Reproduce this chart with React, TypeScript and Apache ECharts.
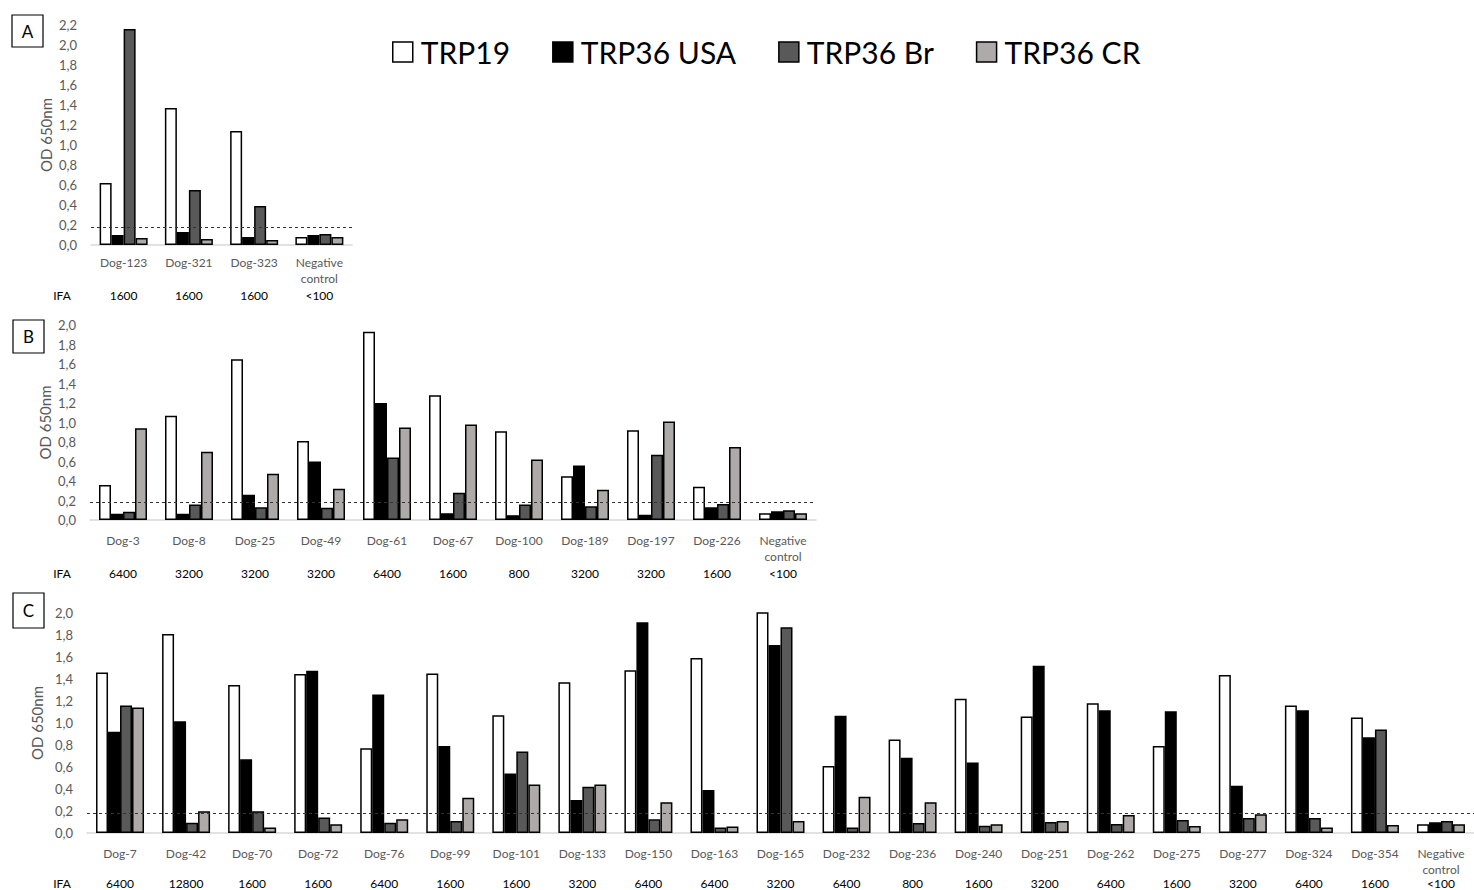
import React, { useEffect, useRef } from "react";
import * as echarts from "echarts";

const seriesNames = ["TRP19", "TRP36 USA", "TRP36 Br", "TRP36 CR"];
const seriesColors = ["#ffffff", "#000000", "#595959", "#aeaaaa"];
const cutoff = 0.18;

// Panel A
const catsA = ["Dog-123", "Dog-321", "Dog-323", "Negative\ncontrol"];
const ifaA = ["1600", "1600", "1600", "<100"];
const aTRP19 = [0.62, 1.37, 1.14, 0.08];
const aUSA = [0.1, 0.13, 0.08, 0.1];
const aBr = [2.16, 0.55, 0.39, 0.11];
const aCR = [0.07, 0.06, 0.05, 0.08];

// Panel B
const catsB = ["Dog-3", "Dog-8", "Dog-25", "Dog-49", "Dog-61", "Dog-67", "Dog-100", "Dog-189", "Dog-197", "Dog-226", "Negative\ncontrol"];
const ifaB = ["6400", "3200", "3200", "3200", "6400", "1600", "800", "3200", "3200", "1600", "<100"];
const bTRP19 = [0.36, 1.07, 1.65, 0.81, 1.93, 1.28, 0.91, 0.45, 0.92, 0.34, 0.07];
const bUSA = [0.065, 0.065, 0.26, 0.6, 1.2, 0.07, 0.05, 0.56, 0.055, 0.13, 0.09];
const bBr = [0.085, 0.16, 0.13, 0.125, 0.64, 0.28, 0.16, 0.14, 0.67, 0.165, 0.1];
const bCR = [0.94, 0.7, 0.475, 0.32, 0.95, 0.98, 0.62, 0.31, 1.01, 0.75, 0.07];

// Panel C
const catsC = ["Dog-7", "Dog-42", "Dog-70", "Dog-72", "Dog-76", "Dog-99", "Dog-101", "Dog-133", "Dog-150", "Dog-163", "Dog-165", "Dog-232", "Dog-236", "Dog-240", "Dog-251", "Dog-262", "Dog-275", "Dog-277", "Dog-324", "Dog-354", "Negative\ncontrol"];
const ifaC = ["6400", "12800", "1600", "1600", "6400", "1600", "1600", "3200", "6400", "6400", "3200", "6400", "800", "1600", "3200", "6400", "1600", "3200", "6400", "1600", "<100"];
const cTRP19 = [1.46, 1.81, 1.345, 1.445, 0.77, 1.45, 1.07, 1.37, 1.48, 1.59, 2.3, 0.61, 0.85, 1.22, 1.06, 1.18, 0.79, 1.436, 1.16, 1.05, 0.08];
const cUSA = [0.92, 1.015, 0.67, 1.475, 1.26, 0.79, 0.54, 0.3, 1.915, 0.39, 1.71, 1.067, 0.685, 0.64, 1.52, 1.115, 1.106, 0.43, 1.115, 0.87, 0.097];
const cBr = [1.16, 0.094, 0.197, 0.14, 0.094, 0.11, 0.74, 0.42, 0.124, 0.05, 1.87, 0.05, 0.09, 0.067, 0.1, 0.082, 0.118, 0.136, 0.136, 0.94, 0.11];
const cCR = [1.14, 0.197, 0.05, 0.08, 0.124, 0.32, 0.44, 0.44, 0.28, 0.06, 0.11, 0.33, 0.28, 0.08, 0.11, 0.164, 0.064, 0.17, 0.05, 0.073, 0.08];

const panels = [
  { letter: "A", cats: catsA, ifa: ifaA, values: [aTRP19, aUSA, aBr, aCR], max: 2.2,
    grid: { left: 91, top: 25, width: 261, height: 220 }, box: { x: 12, y: 15, w: 31, h: 32 }, labelMargin: 9, ifaMargin: 44 },
  { letter: "B", cats: catsB, ifa: ifaB, values: [bTRP19, bUSA, bBr, bCR], max: 2.0,
    grid: { left: 90, top: 325, width: 726, height: 195 }, box: { x: 13, y: 320, w: 31, h: 33 }, labelMargin: 12, ifaMargin: 47 },
  { letter: "C", cats: catsC, ifa: ifaC, values: [cTRP19, cUSA, cBr, cCR], max: 2.0,
    grid: { left: 87, top: 613, width: 1390, height: 220 }, box: { x: 13, y: 593, w: 31, h: 35 }, labelMargin: 12, ifaMargin: 44 },
];

const FONT = "Lato";

export default function App() {
  const ref = useRef<HTMLDivElement>(null);
  useEffect(() => {
    if (!ref.current) return;
    const chart = echarts.init(ref.current, undefined, { renderer: "svg" });
    const grids: any[] = [];
    const xAxes: any[] = [];
    const yAxes: any[] = [];
    const series: any[] = [];
    const graphics: any[] = [];
    panels.forEach((p, pi) => {
      grids.push({ ...p.grid, containLabel: false });
      xAxes.push({
        type: "category", gridIndex: pi, data: p.cats,
        axisLine: { lineStyle: { color: "#d9d9d9", width: 1.5 } },
        axisTick: { show: false },
        axisLabel: { color: "#595959", fontSize: 12, margin: p.labelMargin, lineHeight: 16, interval: 0, fontFamily: FONT },
      });
      xAxes.push({
        type: "category", gridIndex: pi, data: p.ifa, position: "bottom",
        axisLine: { show: false }, axisTick: { show: false },
        axisLabel: { color: "#000", fontSize: 12, margin: p.ifaMargin, interval: 0, fontFamily: FONT },
      });
      yAxes.push({
        type: "value", gridIndex: pi, min: 0, max: p.max, interval: 0.2,
        axisLine: { show: false }, axisTick: { show: false }, splitLine: { show: false },
        axisLabel: { color: "#595959", fontSize: 13, margin: 14, fontFamily: FONT,
          formatter: (v: number) => v.toFixed(1).replace(".", ",") },
        name: "OD 650nm", nameLocation: "middle", nameGap: 38,
        nameTextStyle: { color: "#595959", fontSize: 15, fontFamily: FONT },
      });
      p.values.forEach((vals, si) => {
        const s: any = {
          type: "bar", name: seriesNames[si], data: vals,
          xAxisIndex: pi * 2, yAxisIndex: pi,
          barWidth: 12, barGap: "0%",
          itemStyle: { color: seriesColors[si], borderColor: "#000", borderWidth: 1.5 },
          clip: true,
        };
        if (si === 0) {
          s.markLine = {
            silent: true, symbol: "none", label: { show: false },
            lineStyle: { color: "#333", width: 1, type: [3, 3] },
            data: [{ yAxis: cutoff }],
          };
        }
        series.push(s);
      });
      graphics.push({
        type: "rect", shape: { x: p.box.x, y: p.box.y, width: p.box.w, height: p.box.h },
        style: { fill: "#fff", stroke: "#000", lineWidth: 1.2 },
      });
      graphics.push({
        type: "text", x: p.box.x + p.box.w / 2, y: p.box.y + p.box.h / 2,
        style: { text: p.letter, fontSize: 17, fontFamily: FONT, fill: "#000", align: "center", verticalAlign: "middle" },
      });
    });
    const ifaY = [295, 573, 883];
    ifaY.forEach((y) => {
      graphics.push({
        type: "text", x: 62, y,
        style: { text: "IFA", fontSize: 12, fontFamily: FONT, fill: "#000", align: "center", verticalAlign: "middle" },
      });
    });

    chart.setOption({
      animation: false,
      backgroundColor: "#fff",
      textStyle: { fontFamily: FONT },
      legend: {
        data: seriesNames, left: 387, top: 32, itemWidth: 20, itemHeight: 20, itemGap: 42,
        icon: "rect",
        textStyle: { fontSize: 30, color: "#000", fontFamily: FONT, padding: [0, 0, 0, 3] },
        itemStyle: { borderColor: "#000", borderWidth: 1.5 },
      },
      grid: grids,
      xAxis: xAxes,
      yAxis: yAxes,
      series,
      graphic: graphics,
    });
    return () => chart.dispose();
  }, []);
  return <div ref={ref} style={{ position: "fixed", left: 0, top: 0, width: 1474, height: 890 }} />;
}
